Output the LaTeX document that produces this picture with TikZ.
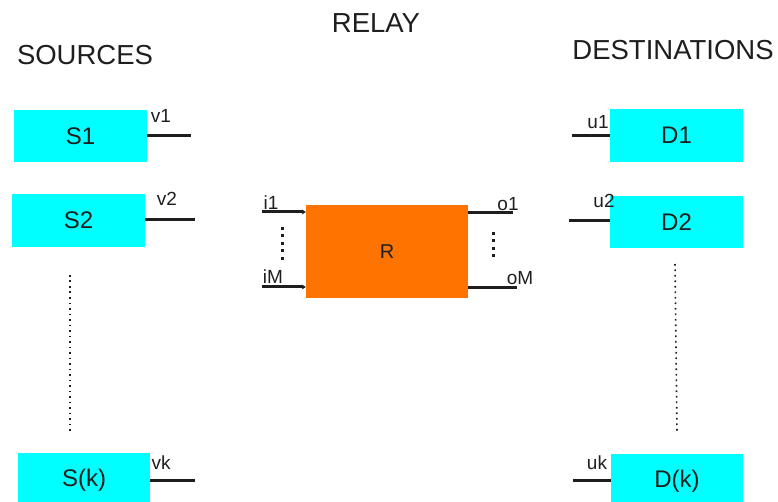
\documentclass[tikz,border=0pt]{standalone}
\usepackage{fontspec}
\setmainfont{Liberation Sans}
\usetikzlibrary{arrows.meta}
\definecolor{boxcyan}{RGB}{0,255,255}
\definecolor{relayorange}{RGB}{255,115,0}
\definecolor{ink}{RGB}{30,30,30}
\tikzset{
  nodebox/.style={fill=boxcyan, draw=none, inner sep=0pt, minimum width=133pt, minimum height=52pt, font=\fontsize{24}{24}\selectfont, text=ink},
  relaybox/.style={fill=relayorange, draw=none, inner sep=0pt, minimum width=162pt, minimum height=93pt, font=\fontsize{20}{20}\selectfont, text=ink},
  stub/.style={draw=ink, line width=3pt},
  instub/.style={draw=ink, line width=3pt, -{Stealth[length=4pt,width=5pt]}},
  lbl/.style={inner sep=0pt, font=\fontsize{19}{19}\selectfont, text=ink},
  title/.style={inner sep=0pt, font=\fontsize{27.5}{27.5}\selectfont, text=ink},
  bigdots/.style={draw=ink, line width=1.6pt, dash pattern=on 1.6pt off 3.9pt},
  relaydots/.style={draw=ink, line width=3pt, dash pattern=on 3pt off 4.5pt},
}
\begin{document}
\begin{tikzpicture}[x=1pt,y=-1pt]
\useasboundingbox (0,0) rectangle (778,502);
% titles
\node[title] (tsrc) at (85,55) {SOURCES};
\node[title] (trel) at (376,23) {RELAY};
\node[title] (tdst) at (673,50) {DESTINATIONS};
% sources
\node[nodebox] (S1) at (80.5,136) {S1};
\node[nodebox, minimum height=53pt] (S2) at (78.5,220.5) {S2};
\node[nodebox, minimum width=132pt, minimum height=54pt] (Sk) at (84,480) {S(k)};
% destinations
\node[nodebox, minimum height=53pt] (D1) at (676.5,135.5) {D1};
\node[nodebox] (D2) at (676.5,222) {D2};
\node[nodebox, minimum width=132pt, minimum height=54pt] (Dk) at (677,481) {D(k)};
% relay
\node[relaybox] (R) at (387,251.5) {R};
% stub ends
\coordinate (v1) at (191,136);
\coordinate (v2) at (195,220);
\coordinate (vk) at (195,480);
\coordinate (u1) at (572,136);
\coordinate (u2) at (569,221);
\coordinate (uk) at (573,480);
\coordinate (i1) at (262,212);
\coordinate (iM) at (262,287);
\coordinate (o1) at (513,213);
\coordinate (oM) at (517,288);
% stubs
\draw[stub] (S1.east |- v1) -- (v1);
\draw[stub] (S2.east |- v2) -- (v2);
\draw[stub] (Sk.east |- vk) -- (vk);
\draw[stub] (u1) -- (u1 -| D1.west);
\draw[stub] (u2) -- (u2 -| D2.west);
\draw[stub] (uk) -- (uk -| Dk.west);
\draw[instub] (i1) -- (i1 -| R.west);
\draw[instub] (iM) -- (iM -| R.west);
\draw[stub] (o1 -| R.east) -- (o1);
\draw[stub] (oM -| R.east) -- (oM);
% labels
\node[lbl] (lv1) at (161,116) {v1};
\node[lbl] (lv2) at (167,199) {v2};
\node[lbl] (lvk) at (161,463) {vk};
\node[lbl] (lu1) at (598,122) {u1};
\node[lbl] (lu2) at (604,201) {u2};
\node[lbl] (luk) at (597,463) {uk};
\node[lbl] (li1) at (271,203) {i1};
\node[lbl] (liM) at (273,277) {iM};
\node[lbl] (lo1) at (508,204) {o1};
\node[lbl] (loM) at (520,278) {oM};
% dotted continuations
\coordinate (ldt) at (70,275);
\coordinate (ldb) at (70,432);
\coordinate (rdt) at (675,264);
\coordinate (rdb) at (677,432);
\draw[bigdots] (ldt) -- (ldb);
\draw[bigdots] (rdt) -- (rdb);
\coordinate (rit) at (282,227);
\coordinate (rib) at (282,262);
\coordinate (rot) at (493,232);
\coordinate (rob) at (493,258);
\draw[relaydots] (rit) -- (rib);
\draw[relaydots] (rot) -- (rob);
\end{tikzpicture}
\end{document}
